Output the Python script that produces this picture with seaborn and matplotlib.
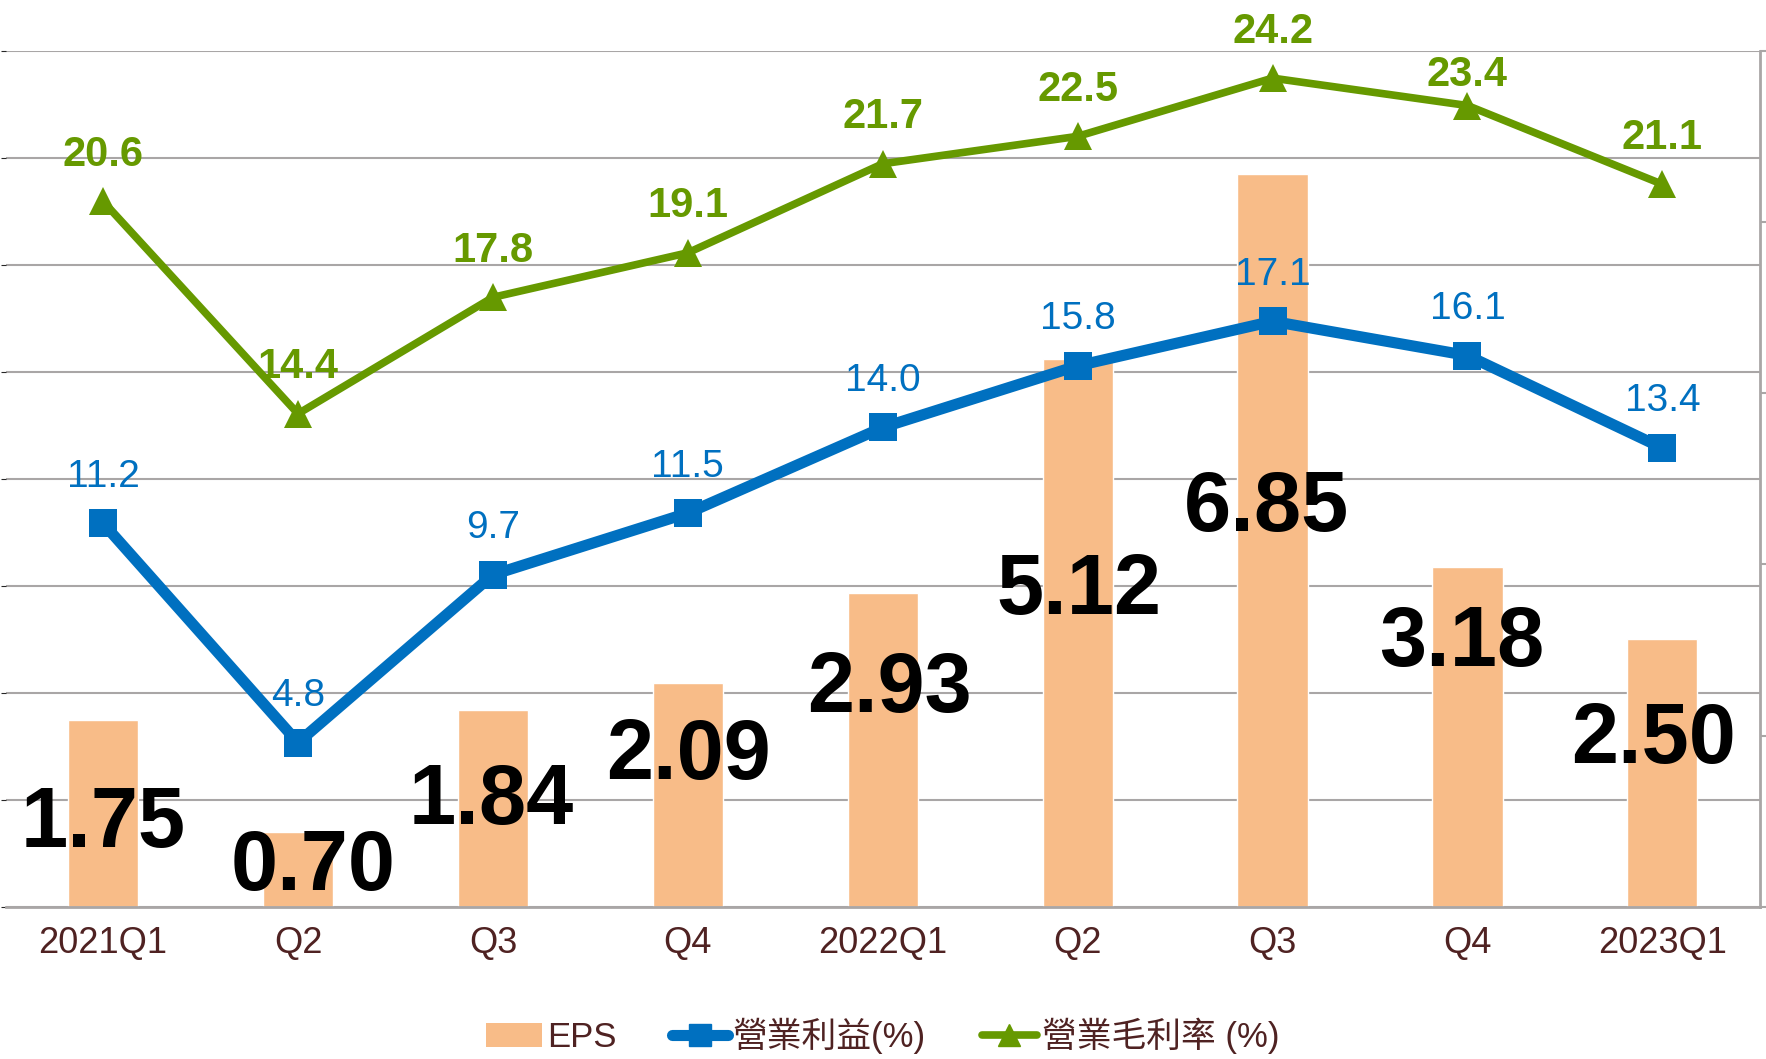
import numpy as np
import pandas as pd
import matplotlib
matplotlib.use("Agg")
import matplotlib.pyplot as plt
from matplotlib.patches import Patch
from matplotlib.lines import Line2D
import seaborn as sns

# data
quarters = ["2021Q1", "Q2", "Q3", "Q4", "2022Q1", "Q2", "Q3", "Q4", "2023Q1"]
eps = [1.75, 0.70, 1.84, 2.09, 2.93, 5.12, 6.85, 3.18, 2.50]
op_margin = [11.2, 4.8, 9.7, 11.5, 14.0, 15.8, 17.1, 16.1, 13.4]
gross_margin = [20.6, 14.4, 17.8, 19.1, 21.7, 22.5, 24.2, 23.4, 21.1]

# where the big EPS labels sit (EPS axis units)
eps_label_y = [0.77, 0.36, 0.98, 1.40, 2.03, 2.94, 3.72, 2.46, 1.55]
eps_label_dx = [0, 0.075, -0.01, 0.005, 0.035, 0.005, -0.03, -0.03, -0.045]
# label offsets above the green points (points)
gm_label_dy = [33.5, 33.5, 33.5, 33.5, 33.5, 33.5, 33.5, 22, 33.5]

c_bar = "#F8BC88"
c_blue = "#0070C0"
c_green = "#669900"
c_text = "#4F2222"
c_grid = "#A9A6A6"

sns.set_style("white")
plt.rcParams["font.family"] = ["Liberation Sans", "Noto Sans CJK TC", "DejaVu Sans"]

df = pd.DataFrame({"pos": np.arange(len(quarters)), "q": quarters, "eps": eps,
                   "op": op_margin, "gm": gross_margin})

fig = plt.figure(figsize=(17.66, 10.59), dpi=100)
ax = fig.add_axes([0.0032, 0.1436, 0.9933, 0.8085])

# 1. EPS bars
sns.barplot(x="pos", y="eps", data=df, color=c_bar, width=0.36, saturation=1,
            ax=ax, zorder=2)
ax.set_ylim(0, 8)
ax.set_xlim(-0.5, len(quarters) - 0.5)
ax.set_yticks(np.arange(0, 9, 1))
ax.yaxis.grid(True, color=c_grid, linewidth=1.5)
ax.set_axisbelow(True)
ax.tick_params(axis="y", left=False, labelleft=False)
for s in ["left", "top", "right"]:
    ax.spines[s].set_visible(False)
ax.spines["bottom"].set_color(c_grid)
ax.spines["bottom"].set_linewidth(2)

ax.set_xticks(np.arange(len(quarters)))
ax.set_xticklabels(quarters, fontsize=26, color=c_text)
ax.tick_params(axis="x", which="major", length=0, pad=14)
ax.set_xticks(np.arange(-0.5, len(quarters), 1), minor=True)
ax.tick_params(axis="x", which="minor", length=9, width=1.5, color=c_grid)
ax.set_xlabel("")
ax.set_ylabel("")

# 2. margins on the secondary axis
ax2 = ax.twinx()
sns.lineplot(x="pos", y="gm", data=df, color=c_green, linewidth=5.5, marker="^",
             markersize=20, markeredgewidth=0, ax=ax2)
sns.lineplot(x="pos", y="op", data=df, color=c_blue, linewidth=8, marker="s",
             markersize=20, markeredgewidth=0, ax=ax2)
ax2.set_ylim(0, 25)
ax2.set_yticks(np.arange(0, 26, 5))
ax2.tick_params(axis="y", right=True, length=7, width=1.5, color=c_grid,
                labelright=False)
for s in ["left", "top", "bottom"]:
    ax2.spines[s].set_visible(False)
ax2.spines["right"].set_color(c_grid)
ax2.spines["right"].set_linewidth(2)
ax2.set_ylabel("")
ax2.set_xlim(-0.5, len(quarters) - 0.5)

for i, v in enumerate(gross_margin):
    ax2.annotate(f"{v:.1f}", (i, v), xytext=(0, gm_label_dy[i]), textcoords="offset points",
                 ha="center", va="center", fontsize=30, fontweight="bold", color=c_green)
for i, v in enumerate(op_margin):
    ax2.annotate(f"{v:.1f}", (i, v), xytext=(0, 33.5), textcoords="offset points",
                 ha="center", va="center", fontsize=28, color=c_blue)

# 3. big EPS labels
for i, v in enumerate(eps):
    ax2.text(i + eps_label_dx[i], eps_label_y[i] * 25 / 8, f"{v:.2f}",
             ha="center", va="center", fontsize=61, fontweight="bold", color="black")

# 4. legend
handles = [Patch(facecolor=c_bar, edgecolor="none"),
           Line2D([], [], color=c_blue, linewidth=8, marker="s", markersize=16),
           Line2D([], [], color=c_green, linewidth=5.5, marker="^", markersize=16)]
labels = ["EPS", "營業利益(%)", "營業毛利率 (%)"]
leg = fig.legend(handles, labels, loc="center", bbox_to_anchor=(0.5, 0.022), ncol=3,
                 frameon=False, fontsize=25, handlelength=1.6, handletextpad=0.15,
                 columnspacing=1.6)
for t in leg.get_texts():
    t.set_color(c_text)

fig.savefig("out.png", dpi=100)
